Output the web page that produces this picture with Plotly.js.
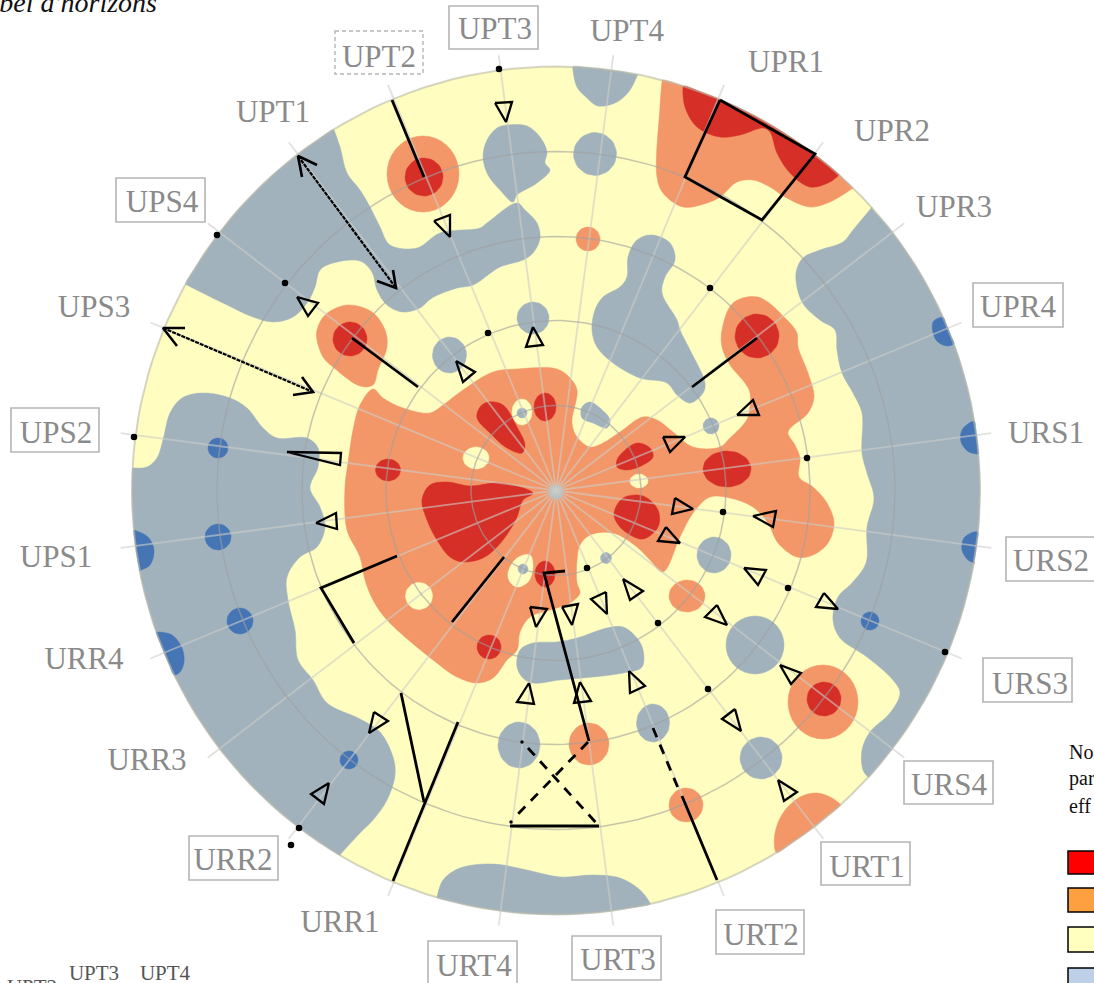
<!DOCTYPE html>
<html><head><meta charset="utf-8">
<script src="https://cdn.plot.ly/plotly-3.0.1.min.js"></script>
<style>html,body{margin:0;padding:0;background:#fff;overflow:hidden}</style></head>
<body><div id="chart" style="width:1094px;height:983px"></div>
<script>
// ----- Values (picture-scale axis units) -----
const centerX = 556, centerY = 490.5, rimRadius = 424;
const ringRadii = [85, 170, 254, 339];
const spokeAngles = [7.5,22.5,37.5,52.5,67.5,82.5,97.5,112.5,127.5,142.5,157.5,172.5,187.5,202.5,217.5,232.5,247.5,262.5,277.5,292.5,307.5,322.5,337.5,352.5];

const colGrey='#A1B2BD', colBlue='#4575B5', colOrange='#F39768', colRed='#D62F27', colYellow='#FFFDBF';

// Contour regions that touch the outer rim
const greyNorthWest = [[334,130],[340,147],[347,173],[360,190],[370,207],[380,227],[390,245],[417,248],[440,233],[480,228],[487,223],[517,203],[525,210],[537,223],[540,238],[533,253],[523,260],[500,267],[473,285],[457,288],[432,298],[420,308],[403,312],[387,305],[377,290],[372,272],[360,261],[333,263],[320,270],[315,287],[307,303],[293,317],[273,322],[253,317],[223,303],[187,285]];
const greyWest = [[133,468],[147,467],[157,458],[163,440],[170,413],[182,398],[203,393],[230,398],[247,408],[263,428],[277,438],[307,438],[318,448],[318,467],[310,488],[320,507],[325,527],[317,547],[300,557],[287,577],[288,600],[295,630],[298,660],[313,680],[327,703],[360,719],[380,732],[393,757],[395,775],[387,800],[373,820],[360,833],[340,855]];
const greyEast = [[872,207],[853,230],[843,242],[820,250],[803,258],[796,273],[802,302],[820,320],[835,330],[837,350],[842,373],[853,393],[862,413],[862,453],[867,473],[874,498],[867,527],[866,563],[852,583],[838,597],[833,620],[840,638],[867,657],[893,680],[900,693],[890,713],[870,732],[862,750],[863,770],[868,777]];
const greyTopRim = [[573,70],[577,87],[587,98],[598,106],[617,102],[630,90],[638,74]];
const greyBottomRim = [[437,897],[443,880],[460,868],[493,864],[527,870],[560,877],[593,875],[620,878],[640,890],[650,903]];
const orangeNorthEast = [[662,82],[660,107],[657,177],[663,193],[683,207],[707,203],[720,197],[737,182],[753,180],[770,187],[785,197],[810,207],[830,202],[853,188]];
const redNorthEast = [[683,88],[685,107],[697,127],[720,137],[740,135],[763,128],[770,132],[777,153],[790,173],[810,187],[830,182],[839,175]];
const orangeSouthEast = [[775,850],[775,833],[783,813],[800,797],[817,793],[832,798],[840,804]];
const blueRimSpots = [
  [[134,530],[148,537],[154,550],[150,565],[139,571]],
  [[157,632],[172,635],[182,648],[184,662],[180,672]],
  [[933,322],[936,340],[947,346]],
  [[971,422],[962,430],[961,442],[969,452],[978,454]],
  [[974,532],[964,538],[962,550],[968,560],[975,563]]
];

// Free-standing contour regions
const greyUpt3 = [[507,125],[527,126],[540,137],[547,152],[545,163],[550,170],[537,183],[517,195],[513,202],[500,190],[488,175],[483,157],[487,140],[497,128]];
const greyCentralNorth = [[652,235],[670,243],[675,260],[665,277],[662,293],[677,320],[680,330],[690,350],[705,383],[703,393],[690,403],[677,395],[667,383],[640,378],[613,363],[597,347],[592,330],[595,310],[603,297],[620,287],[627,277],[628,257],[637,240]];
const greySmallPair = [[590,402],[600,408],[610,420],[607,428],[593,423],[582,418],[582,407]];
const greyBar = [[520,650],[533,643],[557,642],[577,638],[607,628],[623,627],[637,638],[643,650],[642,667],[623,673],[593,677],[560,680],[533,683],[523,678],[517,667]];
const orangeUps3 = [[347,305],[372,312],[385,330],[387,347],[378,370],[373,385],[360,386],[333,367],[323,357],[317,340],[317,330],[325,315]];
const orangeCentral = [[373,389],[383,398],[403,408],[430,413],[443,405],[463,390],[493,372],[517,369],[557,369],[570,378],[577,390],[572,423],[577,437],[590,447],[603,443],[620,432],[643,417],[657,420],[673,432],[693,447],[720,447],[730,438],[743,425],[748,417],[750,393],[745,383],[730,365],[722,347],[722,330],[733,303],[758,297],[787,320],[797,333],[798,347],[808,373],[814,397],[808,413],[788,432],[795,445],[800,458],[799,477],[813,487],[827,503],[834,523],[828,543],[813,555],[797,557],[778,543],[768,523],[753,507],[730,498],[710,497],[693,513],[680,537],[663,572],[650,560],[637,547],[613,533],[590,535],[580,545],[577,560],[577,583],[580,593],[570,603],[550,610],[530,617],[520,632],[517,650],[507,660],[493,678],[477,683],[457,677],[433,660],[387,620],[373,600],[365,580],[360,557],[347,530],[345,487],[348,463],[353,430],[360,405]];
const redMain = [[430,485],[447,482],[470,486],[500,483],[533,493],[523,500],[517,517],[510,530],[497,547],[483,558],[463,562],[450,557],[437,540],[427,520],[422,500]];
const redTear = [[488,402],[503,405],[517,427],[525,445],[522,453],[507,448],[490,433],[477,418],[480,407]];
const redEastUpper = [[617,460],[623,452],[637,443],[650,448],[653,457],[643,465],[627,470],[617,467]];
const redEastLower = [[614,513],[623,498],[643,496],[658,510],[658,527],[643,539],[627,533],[617,523]];
const yellowTilted = [[508,573],[517,558],[530,555],[533,567],[528,582],[517,587],[510,582]];

// Ellipses: centre x, centre y, radius x, radius y
const greySpots = [[595,154,21.5,21.5],[533,318,16,16],[449.5,355,17,18],[711,426,8,8],[606,558,5.5,5.5],[714,555,17,18],[755,645,29,29],[761,758,21,21],[653,723,16.5,19],[519,745,21,23],[556,492,7,7]];
const orangeSpots = [[423,174,36,38],[588,239,12,12],[687,596,18,16],[823,702,35,37],[589,744,20,21],[686,805,17,17]];
const redSpots = [[424,177,19,19],[350,339,17,17],[388,470,12.5,11],[545,407,11,14],[727,469,24,18],[757,336,22,22],[545,574,10,13],[489,647,12,12],[824,699,17,17]];
const holeSpots = [[522,412,10,13],[476,458,13,11],[639,481,9,7],[419,596,13.5,13.5]];
const holeCores = [[522,413,5,5],[523,569,5,5]];
const blueSpots = [[218,448,10,10],[218,537,13,13],[240,621,13,13],[349,760,9,9],[870,621,9,9]];

// Black annotations
const solidLines = [
  [[392,100],[424,177]],
  [[720,100],[815,154],[762,220],[685,177],[720,100]],
  [[692,387],[757,338]],
  [[352,338],[418,387]],
  [[397,556],[321,588],[354,643]],
  [[504,557],[452,622]],
  [[565,571],[544,573],[589,741]],
  [[401,693],[424,802]],
  [[458,722],[393,881]],
  [[510,826],[599,826]],
  [[682,796],[717,880]]
];
const dashedLines = [
  [[588,742],[517,815]],
  [[528,748],[599,826]],
  [[653,728],[678,788]]
];
const arrowShafts = [[[298,156],[396,288]],[[163,328],[313,392]]];
const arrowHeads = [
  [[317,165],[298,156],[302,177]],
  [[377,281],[396,288],[393,270]],
  [[185,328],[163,328],[177,346]],
  [[302,377],[313,392],[293,395]]
];
const triangles = [
  [[495,103],[512,102],[506,122]],[[434,221],[450,215],[450,237]],[[297,297],[318,303],[308,316]],
  [[533,327],[526,347],[543,345]],[[456,361],[475,372],[463,382]],[[663,437],[685,437],[670,452]],
  [[737,415],[753,400],[759,415]],[[675,498],[693,509],[672,514]],[[753,516],[776,511],[773,527]],
  [[666,527],[680,543],[658,541]],[[744,568],[766,570],[758,585]],[[824,593],[838,609],[816,607]],
  [[717,605],[705,617],[727,625]],[[623,579],[643,591],[630,600]],[[606,592],[591,599],[607,614]],
  [[562,607],[578,604],[572,625]],[[530,607],[547,609],[536,627]],[[287,452],[341,453],[340,465]],
  [[316,523],[336,513],[337,529]],[[529,683],[517,702],[534,704]],[[580,682],[574,703],[591,701]],
  [[629,671],[645,686],[630,693]],[[374,712],[388,721],[369,733]],[[329,783],[311,794],[324,804]],
  [[780,665],[801,673],[791,684]],[[735,709],[722,719],[741,731]],[[778,780],[797,792],[784,801]]
];
const dotX = [499,217,285,134,488,710,807,723,587,658,788,945,708,299,291];
const dotY = [69,235,283,437,333,288,458,512,568,623,588,652,689,828,845];
const tinyDotX = [522,511], tinyDotY = [742,822];

// Labels
const axisLabels = ['UPT2','UPT3','UPT4','UPR1','UPR2','UPR3','UPR4','URS1','URS2','URS3','URS4','URT1','URT2','URT3','URT4','URR1','URR2','URR3','URR4','UPS1','UPS2','UPS3','UPS4','UPT1'];
const axisLabelX = [379,495,627,786,892,954,1018,1046,1051,1030,949,867,761,618,474,340,233,147,84,56,56,94,162,273];
const axisLabelY = [59,31,33,64,133,209,309,435,563,686,787,869,937,962,968,924,862,762,661,559,435,309,204,114];
const solidBoxes = [[449,6,538,49],[973,283,1063,327],[1006,537,1100,581],[983,658,1072,702],[904,761,993,804],[821,842,910,885],[716,910,804,954],[572,936,661,980],[428,941,517,995],[189,836,278,880],[11,408,99,452],[116,178,205,222]];
const dashedBoxes = [[335,31,423,74]];
const legendColors = ['#FF0000','#FFA040','#FFFFC0','#BDD0E8'];
const legendBoxes = [[1068,851,1100,874],[1068,888,1100,912],[1068,927,1100,952],[1068,968,1100,995]];
const noteLines = ['No','par','eff'], noteX = [1069,1069,1069], noteY = [754,780,808];

// ----- Build helpers -----
function rimClose(points){
  const a0=Math.atan2(points[points.length-1][1]-centerY,points[points.length-1][0]-centerX);
  const a1=Math.atan2(points[0][1]-centerY,points[0][0]-centerX);
  let d=a1-a0; while(d>Math.PI)d-=2*Math.PI; while(d<-Math.PI)d+=2*Math.PI;
  const out=points.slice(); const n=Math.max(4,Math.ceil(Math.abs(d)/0.05));
  for(let i=0;i<=n;i++){const a=a0+d*i/n; out.push([centerX+rimRadius*Math.cos(a),centerY+rimRadius*Math.sin(a)]);}
  return out;
}
const skip={hoverinfo:'skip',showlegend:false};
function blob(points,color,shape){
  return Object.assign({type:'scatter',mode:'lines',x:points.map(p=>p[0]).concat([points[0][0]]),y:points.map(p=>p[1]).concat([points[0][1]]),
    fill:'toself',fillcolor:color,line:{color:color,width:0.5,shape:shape||'spline',smoothing:1}},skip);
}
function ellipse(e,color){
  const pts=[]; for(let i=0;i<36;i++){const a=i*Math.PI/18; pts.push([e[0]+e[2]*Math.cos(a),e[1]+e[3]*Math.sin(a)]);}
  return blob(pts,color,'linear');
}
function polyline(points,width,dash,color){
  return Object.assign({type:'scatter',mode:'lines',x:points.map(p=>p[0]),y:points.map(p=>p[1]),line:{color:color||'#000',width:width,dash:dash||'solid',shape:'linear'}},skip);
}
function ring(r,color,width){
  const pts=[]; for(let i=0;i<=180;i++){const a=i*Math.PI/90; pts.push([centerX+r*Math.cos(a),centerY+r*Math.sin(a)]);}
  return polyline(pts,width,'solid',color);
}
const traces=[];
// disk
{const pts=[]; for(let i=0;i<180;i++){const a=i*Math.PI/90; pts.push([centerX+rimRadius*Math.cos(a),centerY+rimRadius*Math.sin(a)]);} traces.push(blob(pts,colYellow,'linear'));}
[greyNorthWest,greyWest,greyEast,greyTopRim,greyBottomRim].forEach(p=>traces.push(blob(rimClose(p),colGrey)));
blueRimSpots.forEach(p=>traces.push(blob(rimClose(p),colBlue)));
blueSpots.forEach(e=>traces.push(ellipse(e,colBlue)));
traces.push(blob(rimClose(orangeNorthEast),colOrange));
traces.push(blob(rimClose(orangeSouthEast),colOrange));
traces.push(blob(rimClose(redNorthEast),colRed));
[greyUpt3,greyCentralNorth,greySmallPair,greyBar].forEach(p=>traces.push(blob(p,colGrey)));
[orangeUps3,orangeCentral].forEach(p=>traces.push(blob(p,colOrange)));
orangeSpots.forEach(e=>traces.push(ellipse(e,colOrange)));
[redMain,redTear,redEastUpper,redEastLower].forEach(p=>traces.push(blob(p,colRed)));
redSpots.forEach(e=>traces.push(ellipse(e,colRed)));
holeSpots.forEach(e=>traces.push(ellipse(e,colYellow)));
traces.push(blob(yellowTilted,colYellow));
holeCores.forEach(e=>traces.push(ellipse(e,colGrey)));
greySpots.forEach(e=>traces.push(ellipse(e,colGrey)));
// grid
{const xs=[],ys=[];
 spokeAngles.forEach(deg=>{const a=deg*Math.PI/180; xs.push(centerX,centerX+(rimRadius+15)*Math.sin(a),null); ys.push(centerY,centerY-(rimRadius+15)*Math.cos(a),null);});
 traces.push(Object.assign({type:'scatter',mode:'lines',x:xs,y:ys,connectgaps:false,line:{color:'rgba(205,205,200,0.6)',width:1.8}},skip));}
ringRadii.forEach(r=>traces.push(ring(r,'rgba(160,160,160,0.6)',1.5)));
traces.push(ring(rimRadius,'rgba(185,185,170,0.6)',2));
// black marks
solidLines.forEach(p=>traces.push(polyline(p,2.8)));
dashedLines.forEach(p=>traces.push(polyline(p,2.8,'10px,8px')));
arrowShafts.forEach(p=>traces.push(polyline(p,2.2,'4px,1px')));
arrowHeads.forEach(p=>traces.push(polyline(p,2.6)));
triangles.forEach(p=>traces.push(polyline(p.concat([p[0]]),2.3)));
traces.push(Object.assign({type:'scatter',mode:'markers',x:dotX,y:dotY,marker:{color:'#000',size:6.5}},skip));
traces.push(Object.assign({type:'scatter',mode:'markers',x:tinyDotX,y:tinyDotY,marker:{color:'#000',size:3.5}},skip));
// text
const serif='"Liberation Serif","Times New Roman",serif';
traces.push(Object.assign({type:'scatter',mode:'text',x:axisLabelX,y:axisLabelY,text:axisLabels,textposition:'middle center',textfont:{family:serif,size:31,color:'#8A8A8A'}},skip));
traces.push(Object.assign({type:'scatter',mode:'text',x:noteX,y:noteY,text:noteLines,textposition:'middle right',textfont:{family:serif,size:20,color:'#111'}},skip));
traces.push(Object.assign({type:'scatter',mode:'text',x:[157],y:[5],text:['<i>Label d\'horizons</i>'],textposition:'middle left',textfont:{family:serif,size:28,color:'#111'}},skip));
traces.push(Object.assign({type:'scatter',mode:'text',x:[94,165,32],y:[975,975,989],text:['UPT3','UPT4','UPT2'],textposition:'middle center',textfont:{family:serif,size:21,color:'#555'}},skip));

const shapes=[];
solidBoxes.forEach(b=>shapes.push({type:'rect',xref:'x',yref:'y',x0:b[0],y0:b[1],x1:b[2],y1:b[3],line:{color:'#B5B5B5',width:1.6},layer:'above'}));
dashedBoxes.forEach(b=>shapes.push({type:'rect',xref:'x',yref:'y',x0:b[0],y0:b[1],x1:b[2],y1:b[3],line:{color:'#B5B5B5',width:1.4,dash:'4px,3px'},layer:'above'}));
legendBoxes.forEach((b,i)=>shapes.push({type:'rect',xref:'x',yref:'y',x0:b[0],y0:b[1],x1:b[2],y1:b[3],fillcolor:legendColors[i],line:{color:'#000',width:1.5},layer:'above'}));

Plotly.newPlot('chart',traces,{
  width:1094,height:983,margin:{l:0,r:0,t:0,b:0,pad:0},paper_bgcolor:'#fff',plot_bgcolor:'#fff',showlegend:false,
  xaxis:{range:[0,1094],visible:false,fixedrange:true},
  yaxis:{range:[983,0],visible:false,fixedrange:true},
  shapes:shapes
},{displayModeBar:false,staticPlot:true});
</script></body></html>
